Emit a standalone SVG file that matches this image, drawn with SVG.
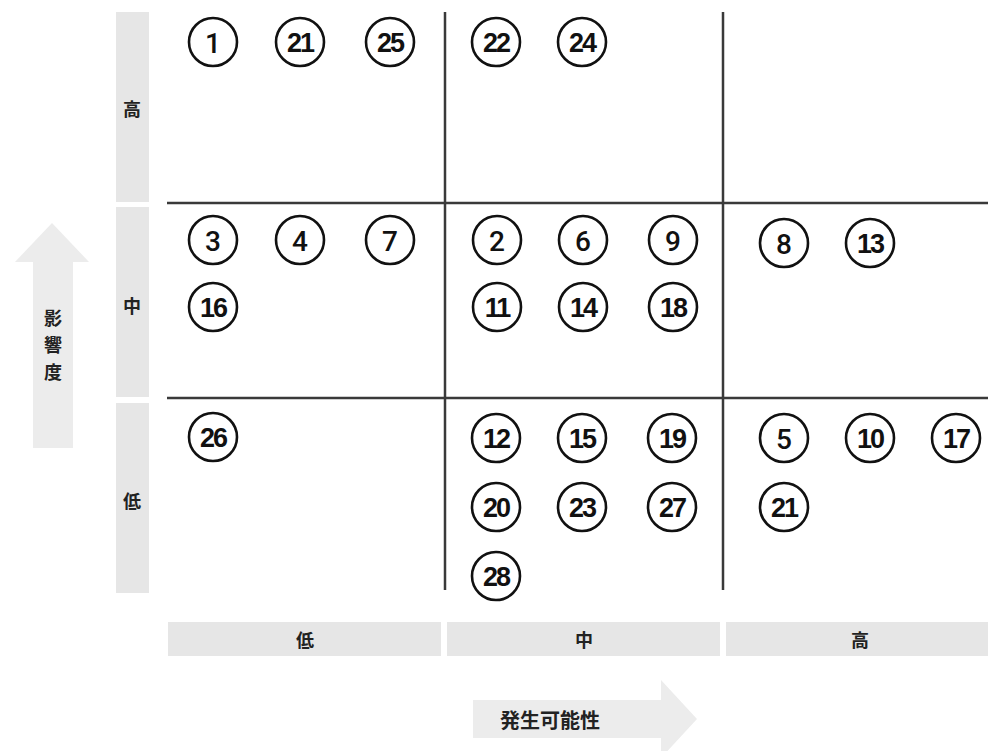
<svg xmlns="http://www.w3.org/2000/svg" width="988" height="751" viewBox="0 0 988 751">
<style>
.bar{fill:#e6e6e6}
.arrow{fill:#ececec}
.grid{stroke:#3a3a3a;stroke-width:2.5;fill:none}
.node circle{fill:#fff;stroke:#111;stroke-width:2.6}
.node text{font-family:Roboto,"Liberation Sans",Arial,sans-serif;font-size:28px;font-weight:500;fill:#111;text-anchor:middle;dominant-baseline:central}
.node text.two{font-family:"Liberation Sans",Arial,sans-serif;font-size:27px;font-weight:bold;letter-spacing:-2px}
.lbl{font-family:"Noto Sans CJK JP","Noto Sans CJK SC",sans-serif;font-size:18px;font-weight:bold;fill:#222;text-anchor:middle;dominant-baseline:central}
.big{font-size:20px}
</style>
<rect width="988" height="751" fill="#fff"/>
<g id="axis-y">
<rect class="bar" x="116" y="12" width="33" height="190"/>
<rect class="bar" x="116" y="207" width="33" height="190"/>
<rect class="bar" x="116" y="403" width="33" height="190"/>
<text class="lbl" x="132" y="108">高</text>
<text class="lbl" x="132" y="305">中</text>
<text class="lbl" x="132" y="500">低</text>
<polygon class="arrow" points="52,223 89,262 73,262 73,448 33,448 33,262 15,262"/>
<text class="lbl" x="53" y="317">影</text>
<text class="lbl" x="53" y="344">響</text>
<text class="lbl" x="53" y="371">度</text>
</g>
<g id="axis-x">
<rect class="bar" x="168" y="622" width="273" height="34"/>
<rect class="bar" x="447" y="622" width="273" height="34"/>
<rect class="bar" x="726" y="622" width="262" height="34"/>
<text class="lbl" x="305" y="639">低</text>
<text class="lbl" x="584" y="639">中</text>
<text class="lbl" x="860" y="639">高</text>
<polygon class="arrow" points="473,700 661,700 661,680 697,719 661,758 661,738 473,738"/>
<text class="lbl big" x="550" y="719">発生可能性</text>
</g>
<g id="connectors">
<line class="grid" x1="445" y1="12" x2="445" y2="590"/>
<line class="grid" x1="723" y1="12" x2="723" y2="590"/>
<line class="grid" x1="167" y1="203" x2="988" y2="203"/>
<line class="grid" x1="167" y1="398" x2="988" y2="398"/>
</g>
<g id="n1" class="node"><circle cx="213" cy="42" r="24"/><text x="213" y="43">1</text></g>
<g id="n21a" class="node"><circle cx="300" cy="42" r="24"/><text class="two" x="300" y="43">21</text></g>
<g id="n25" class="node"><circle cx="390" cy="42" r="24"/><text class="two" x="390" y="43">25</text></g>
<g id="n22" class="node"><circle cx="496" cy="42" r="24"/><text class="two" x="496" y="43">22</text></g>
<g id="n24" class="node"><circle cx="582" cy="42" r="24"/><text class="two" x="582" y="43">24</text></g>
<g id="n3" class="node"><circle cx="213" cy="240" r="24"/><text x="213" y="241">3</text></g>
<g id="n4" class="node"><circle cx="300" cy="240" r="24"/><text x="300" y="241">4</text></g>
<g id="n7" class="node"><circle cx="390" cy="240" r="24"/><text x="390" y="241">7</text></g>
<g id="n16" class="node"><circle cx="213" cy="307" r="24"/><text class="two" x="213" y="308">16</text></g>
<g id="n2" class="node"><circle cx="497" cy="240" r="24"/><text x="497" y="241">2</text></g>
<g id="n6" class="node"><circle cx="583" cy="240" r="24"/><text x="583" y="241">6</text></g>
<g id="n9" class="node"><circle cx="673" cy="240" r="24"/><text x="673" y="241">9</text></g>
<g id="n11" class="node"><circle cx="497" cy="307" r="24"/><text class="two" x="497" y="308">11</text></g>
<g id="n14" class="node"><circle cx="583" cy="307" r="24"/><text class="two" x="583" y="308">14</text></g>
<g id="n18" class="node"><circle cx="673" cy="307" r="24"/><text class="two" x="673" y="308">18</text></g>
<g id="n8" class="node"><circle cx="784" cy="243" r="24"/><text x="784" y="244">8</text></g>
<g id="n13" class="node"><circle cx="870" cy="243" r="24"/><text class="two" x="870" y="244">13</text></g>
<g id="n26" class="node"><circle cx="213" cy="437" r="24"/><text class="two" x="213" y="438">26</text></g>
<g id="n12" class="node"><circle cx="496" cy="438" r="24"/><text class="two" x="496" y="439">12</text></g>
<g id="n15" class="node"><circle cx="582" cy="438" r="24"/><text class="two" x="582" y="439">15</text></g>
<g id="n19" class="node"><circle cx="672" cy="438" r="24"/><text class="two" x="672" y="439">19</text></g>
<g id="n20" class="node"><circle cx="496" cy="507" r="24"/><text class="two" x="496" y="508">20</text></g>
<g id="n23" class="node"><circle cx="582" cy="507" r="24"/><text class="two" x="582" y="508">23</text></g>
<g id="n27" class="node"><circle cx="672" cy="507" r="24"/><text class="two" x="672" y="508">27</text></g>
<g id="n28" class="node"><circle cx="496" cy="576" r="24"/><text class="two" x="496" y="577">28</text></g>
<g id="n5" class="node"><circle cx="784" cy="438" r="24"/><text x="784" y="439">5</text></g>
<g id="n10" class="node"><circle cx="870" cy="438" r="24"/><text class="two" x="870" y="439">10</text></g>
<g id="n17" class="node"><circle cx="956" cy="438" r="24"/><text class="two" x="956" y="439">17</text></g>
<g id="n21b" class="node"><circle cx="784" cy="507" r="24"/><text class="two" x="784" y="508">21</text></g>
</svg>
